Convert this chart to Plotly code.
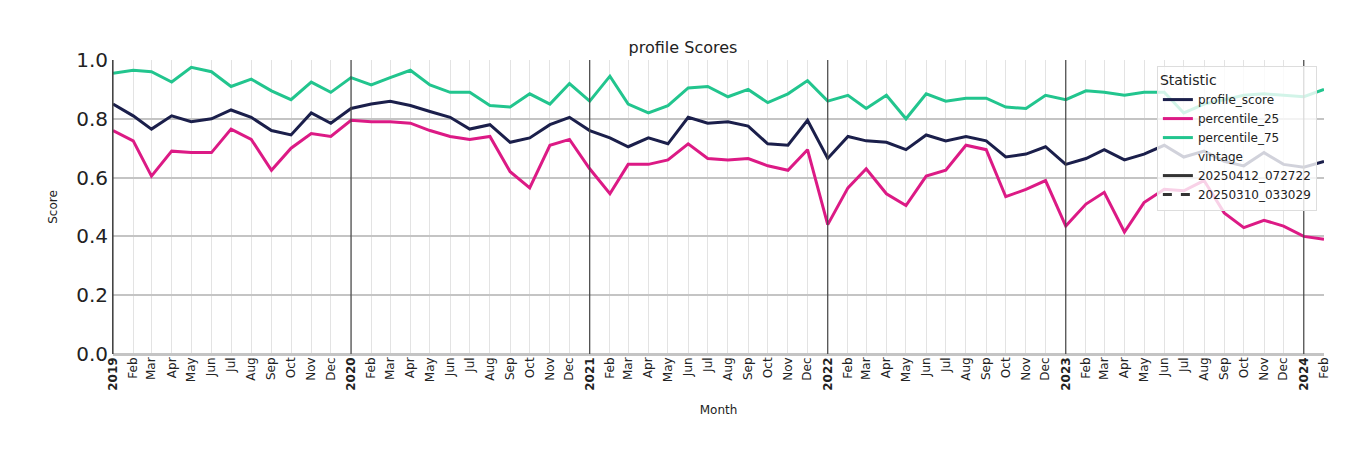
import plotly.graph_objects as go
import pandas as pd

months = pd.date_range("2019-01-01", "2024-02-01", freq="MS")
profile_score = [.85,.81,.765,.81,.79,.80,.83,.805,.76,.745,.82,.785,
 .835,.85,.86,.845,.825,.805,.765,.78,.72,.735,.78,.805,
 .76,.735,.705,.735,.715,.805,.785,.79,.775,.715,.71,.795,
 .665,.74,.725,.72,.695,.745,.725,.74,.725,.67,.68,.705,
 .645,.665,.695,.66,.68,.71,.67,.69,.655,.64,.685,.645,
 .635,.655]
percentile_25 = [.76,.725,.605,.69,.685,.685,.765,.73,.625,.70,.75,.74,
 .795,.79,.79,.785,.76,.74,.73,.74,.62,.565,.71,.73,
 .63,.545,.645,.645,.66,.715,.665,.66,.665,.64,.625,.695,
 .44,.565,.63,.545,.505,.605,.625,.71,.695,.535,.56,.59,
 .435,.51,.55,.415,.515,.56,.555,.59,.48,.43,.455,.435,
 .40,.39]
percentile_75 = [.955,.965,.96,.925,.975,.96,.91,.935,.895,.865,.925,.89,
 .94,.915,.94,.965,.915,.89,.89,.845,.84,.885,.85,.92,
 .86,.945,.85,.82,.845,.905,.91,.875,.90,.855,.885,.93,
 .86,.88,.835,.88,.80,.885,.86,.87,.87,.84,.835,.88,
 .865,.895,.89,.88,.89,.89,.82,.85,.865,.88,.885,.88,
 .875,.90]

series = [("profile_score", profile_score, "#1b1f4b"),
          ("percentile_25", percentile_25, "#dc1a85"),
          ("percentile_75", percentile_75, "#22c58e")]

fig = go.Figure()
for name, vals, col in series:
    fig.add_trace(go.Scatter(x=months, y=vals, mode="lines", name=name,
                             line=dict(color=col, width=3)))
fig.add_trace(go.Scatter(x=[None], y=[None], mode="lines", name="vintage",
                         line=dict(color="rgba(0,0,0,0)", width=3)))
fig.add_trace(go.Scatter(x=[None], y=[None], mode="lines", name="20250412_072722",
                         line=dict(color="#333333", width=3)))
fig.add_trace(go.Scatter(x=[None], y=[None], mode="lines", name="20250310_033029",
                         line=dict(color="#333333", width=3, dash="dash")))

ticktext = [f"<b>{d.year}</b>" if d.month == 1 else d.strftime("%b") for d in months]
for d in months:
    if d.month == 1:
        fig.add_vline(x=d, line=dict(color="#444444", width=1.2))

fig.update_layout(
    width=1350, height=450,
    margin=dict(l=105, r=34, t=52, b=104),
    plot_bgcolor="white", paper_bgcolor="white",
    font=dict(family="DejaVu Sans", color="#222222"),
    title=dict(text="profile Scores", x=0.5, xanchor="center", y=0.925, font=dict(size=16)),
    xaxis=dict(tickmode="array", tickvals=list(months), ticktext=ticktext,
               tickangle=-90, tickfont=dict(size=12),
               range=[months[0], months[-1]],
               showgrid=True, gridcolor="#e3e3e3", gridwidth=1,
               title=dict(text="Month", font=dict(size=12)), zeroline=False),
    yaxis=dict(range=[0, 1.0], dtick=0.2, tickformat=".1f", tickfont=dict(size=20),
               showgrid=True, gridcolor="#c4c4c4", gridwidth=1.5,
               title=dict(text="Score", font=dict(size=12)),
               zeroline=True, zerolinecolor="#c4c4c4", zerolinewidth=3,
               showline=True, linecolor="#444444", linewidth=1),
    legend=dict(title=dict(text="Statistic", side="top"), x=0.862, y=0.98,
                xanchor="left", yanchor="top",
                bgcolor="rgba(255,255,255,0.8)", bordercolor="#dddddd", borderwidth=1,
                font=dict(size=12), tracegroupgap=0),
    showlegend=True,
)
fig.write_html("out.html")
